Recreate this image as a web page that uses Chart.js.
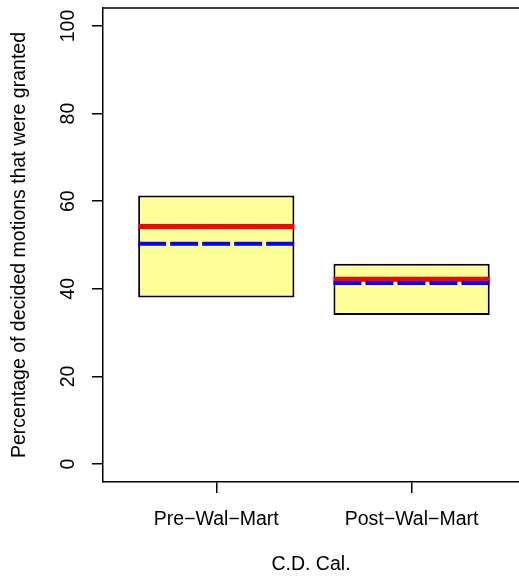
<!DOCTYPE html>
<html>
<head>
<meta charset="utf-8">
<script src="https://cdn.jsdelivr.net/npm/chart.js@4.4.1/dist/chart.umd.min.js"></script>
<style>
  html, body { margin: 0; padding: 0; background: #ffffff; }
  #wrap { width: 519px; height: 580px; position: relative; }
</style>
</head>
<body>
<div id="wrap"><canvas id="chart"></canvas></div>
<script>
// groups on the x axis
const groups = ["Pre\u2212Wal\u2212Mart", "Post\u2212Wal\u2212Mart"];
// box extent (low / high) for each group
const lowValues = [38.0, 34.0];
const highValues = [61.3, 45.7];
// red solid line and blue dashed line
const meanValues = [54.2, 42.2];
const medianValues = [50.3, 41.3];
// tick labels
const yTicks = [0, 20, 40, 60, 80, 100];

const halfWidth = 0.4;
const fontFamily = "'Liberation Sans', Arial, Helvetica, sans-serif";

// build the segments for the horizontal lines, with a gap between groups
function segments(values) {
  const pts = [];
  values.forEach((v, i) => {
    pts.push({ x: i + 1 - halfWidth, y: v });
    pts.push({ x: i + 1 + halfWidth, y: v });
    pts.push({ x: i + 1.5, y: null });
  });
  return pts;
}

//draw the top edge of the frame (no right edge in the picture)
const frameTop = {
  id: "frameTop",
  afterDraw(chart) {
    const { ctx, chartArea } = chart;
    ctx.save();
    ctx.strokeStyle = "#000000";
    ctx.lineWidth = 1.5;
    ctx.beginPath();
    ctx.moveTo(chartArea.left - 0.75, chartArea.top);
    ctx.lineTo(chartArea.right, chartArea.top);
    ctx.stroke();
    ctx.restore();
  },
};

new Chart(document.getElementById("chart"), {
  type: "bar",
  plugins: [frameTop],
  data: {
    datasets: [
      {
        type: "line",
        data: segments(medianValues),
        borderColor: "#0000ff",
        borderWidth: 4,
        borderDash: [28, 4],
        borderCapStyle: "butt",
        pointRadius: 0,
        spanGaps: false,
        order: 1,
      },
      {
        type: "line",
        data: segments(meanValues),
        borderColor: "#ff0000",
        borderWidth: 5,
        borderCapStyle: "butt",
        pointRadius: 0,
        spanGaps: false,
        order: 2,
      },
      {
        type: "bar",
        data: groups.map((g, i) => ({ x: i + 1, y: [lowValues[i], highValues[i]] })),
        backgroundColor: "#ffff99",
        borderColor: "#000000",
        borderWidth: 2,
        borderSkipped: false,
        barPercentage: 1,
        categoryPercentage: 0.8,
        order: 3,
      },
    ],
  },
  options: {
    responsive: true,
    maintainAspectRatio: false,
    animation: false,
    layout: { padding: { top: 8, right: 0, left: 0, bottom: 0 } },
    plugins: {
      legend: { display: false },
      tooltip: { enabled: false },
    },
    scales: {
      x: {
        type: "linear",
        min: 0.42,
        max: 2.55,
        offset: false,
        afterBuildTicks: (scale) => {
          scale.ticks = groups.map((g, i) => ({ value: i + 1 }));
        },
        afterFit: (scale) => {
          scale.height = 98;
          scale.paddingLeft = 0;
          scale.paddingRight = 0;
        },
        grid: {
          offset: false,
          drawOnChartArea: false,
          tickLength: 11,
          color: "#000000",
          lineWidth: 1.5,
        },
        border: { display: true, color: "#000000", width: 1.5 },
        ticks: {
          color: "#000000",
          padding: 15,
          maxRotation: 0,
          font: { family: fontFamily, size: 19.5 },
          callback: (v) => groups[v - 1],
        },
        title: {
          display: true,
          text: "C.D. Cal.",
          color: "#000000",
          padding: { top: 0, bottom: 4 },
          font: { family: fontFamily, size: 19.5 },
        },
      },
      y: {
        min: -4.1,
        max: 104.1,
        afterBuildTicks: (scale) => {
          scale.ticks = yTicks.map((v) => ({ value: v }));
        },
        afterFit: (scale) => {
          scale.width = 103;
          scale.paddingTop = 0;
          scale.paddingBottom = 0;
        },
        grid: {
          drawOnChartArea: false,
          tickLength: 11,
          color: "#000000",
          lineWidth: 1.5,
        },
        border: { display: true, color: "#000000", width: 1.5 },
        ticks: {
          color: "#000000",
          padding: 7,
          minRotation: 90,
          maxRotation: 90,
          crossAlign: "center",
          font: { family: fontFamily, size: 19.5 },
        },
        title: {
          display: true,
          text: "Percentage of decided motions that were granted",
          color: "#000000",
          padding: { top: 8, bottom: 0 },
          font: { family: fontFamily, size: 19.5 },
        },
      },
    },
  },
});
</script>
</body>
</html>
